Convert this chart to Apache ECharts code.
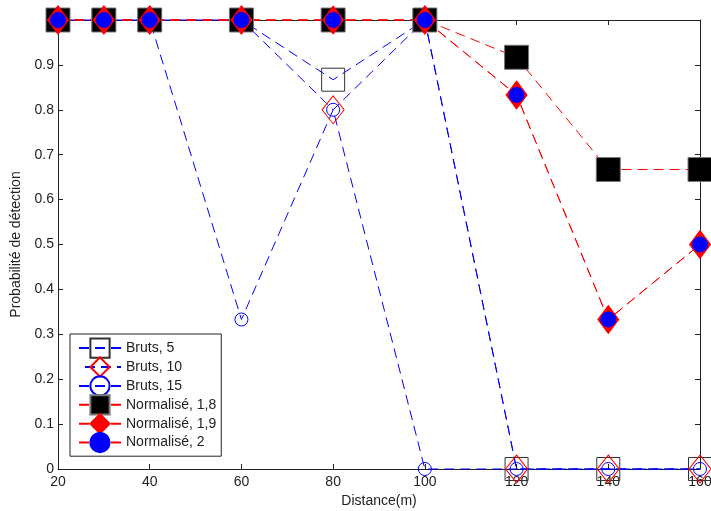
<!DOCTYPE html>
<html>
<head>
<meta charset="utf-8">
<script src="https://cdn.jsdelivr.net/npm/echarts@6/dist/echarts.min.js"></script>
<style>
html,body{margin:0;padding:0;background:#fff;}
#c{width:711px;height:511px;}
</style>
</head>
<body>
<div id="c"></div>
<script>
const distances = [20, 30, 40, 60, 80, 100, 120, 140, 160];
const bruts5 = [1, 1, 1, 1, 0.867, 1, 0, 0, 0];
const bruts10 = [1, 1, 1, 1, 0.8, 1, 0, 0, 0];
const bruts15 = [1, 1, 1, 0.333, 0.8, 0, 0, 0, 0];
const norm18 = [1, 1, 1, 1, 1, 1, 0.917, 0.667, 0.667];
const norm19 = [1, 1, 1, 1, 1, 1, 0.833, 0.333, 0.5];
const norm2 = [1, 1, 1, 1, 1, 1, 0.833, 0.333, 0.5];
const seriesNames = ['Bruts, 5', 'Bruts, 10', 'Bruts, 15', 'Normalisé, 1,8', 'Normalisé, 1,9', 'Normalisé, 2'];
const xTicks = [20, 40, 60, 80, 100, 120, 140, 160];
const yTicks = [0, 0.1, 0.2, 0.3, 0.4, 0.5, 0.6, 0.7, 0.8, 0.9, 1];

const pairs = arr => distances.map((d, i) => [d, arr[i]]);
const font = 'Arial, "Liberation Sans", sans-serif';
const dash = [10, 6];
const fs = 14;

function mk(name, data, lineColor, symbol, size, fill, border, bw, dashOffset) {
  return {
    name: name, type: 'line', data: pairs(data), clip: false,
    symbol: symbol, symbolSize: size, showAllSymbol: true,
    lineStyle: {color: lineColor, width: 1, type: dash, dashOffset: dashOffset || 0},
    itemStyle: {color: fill, borderColor: border, borderWidth: bw, opacity: 1},
    emphasis: {disabled: true}, animation: false
  };
}

const chart = echarts.init(document.getElementById('c'), null, {renderer: 'canvas'});
chart.setOption({
  backgroundColor: '#fff',
  animation: false,
  grid: {left: 58, right: 11, top: 20, bottom: 42, containLabel: false, outerBoundsMode: 'none'},
  legend: {
    show: true, orient: 'vertical', left: 70, top: 334,
    padding: [3.5, 5, 3, 8], itemGap: -2.3, itemWidth: 42, itemHeight: 24,
    borderColor: '#222', borderWidth: 1, backgroundColor: '#fff',
    textStyle: {fontFamily: font, fontSize: fs, color: '#222'},
    data: seriesNames
  },
  xAxis: [{
    type: 'value', min: 20, max: 160, interval: 20,
    name: 'Distance(m)', nameLocation: 'middle', nameGap: 24,
    nameTextStyle: {fontFamily: font, fontSize: fs, color: '#222'},
    axisLine: {show: true, onZero: false, lineStyle: {color: '#222', width: 1}},
    axisTick: {show: true, inside: true, length: 5, lineStyle: {color: '#222'}},
    axisLabel: {fontFamily: font, fontSize: fs, color: '#222', margin: 6},
    splitLine: {show: false}
  }, {
    type: 'value', position: 'top', min: 20, max: 160, interval: 20,
    axisLine: {show: true, onZero: false, lineStyle: {color: '#222', width: 1}},
    axisTick: {show: true, inside: true, length: 5, lineStyle: {color: '#222'}},
    axisLabel: {show: false}, splitLine: {show: false}
  }],
  yAxis: [{
    type: 'value', min: 0, max: 1, interval: 0.1,
    name: 'Probabilité de détection', nameLocation: 'middle', nameGap: 29,
    nameTextStyle: {fontFamily: font, fontSize: fs, color: '#222'},
    axisLine: {show: true, onZero: false, lineStyle: {color: '#222', width: 1}},
    axisTick: {show: true, inside: true, length: 5, lineStyle: {color: '#222'}},
    axisLabel: {fontFamily: font, fontSize: fs, color: '#222', margin: 4,
      formatter: v => (Math.abs(v - 1) < 1e-9 ? '' : String(+v.toFixed(1)))},
    splitLine: {show: false}
  }, {
    type: 'value', position: 'right', min: 0, max: 1, interval: 0.1,
    axisLine: {show: true, onZero: false, lineStyle: {color: '#222', width: 1}},
    axisTick: {show: true, inside: true, length: 5, lineStyle: {color: '#222'}},
    axisLabel: {show: false}, splitLine: {show: false}
  }],
  series: [
    mk(seriesNames[0], bruts5, '#0000ff', 'rect', 23, 'rgba(255,255,255,0)', '#333', 1),
    mk(seriesNames[1], bruts10, '#0000ff', 'diamond', [22, 28], 'rgba(255,255,255,0)', '#ff0000', 1, 10),
    mk(seriesNames[2], bruts15, '#0000ff', 'circle', 13, 'rgba(255,255,255,0)', '#0000ff', 1),
    mk(seriesNames[3], norm18, '#ff0000', 'rect', 24, '#000000', '#777', 1),
    mk(seriesNames[4], norm19, '#ff0000', 'diamond', [21, 28], '#ff0000', '#ff0000', 1),
    mk(seriesNames[5], norm2, '#ff0000', 'circle', 15, '#0000ff', '#0000ff', 1)
  ]
});
</script>
</body>
</html>
